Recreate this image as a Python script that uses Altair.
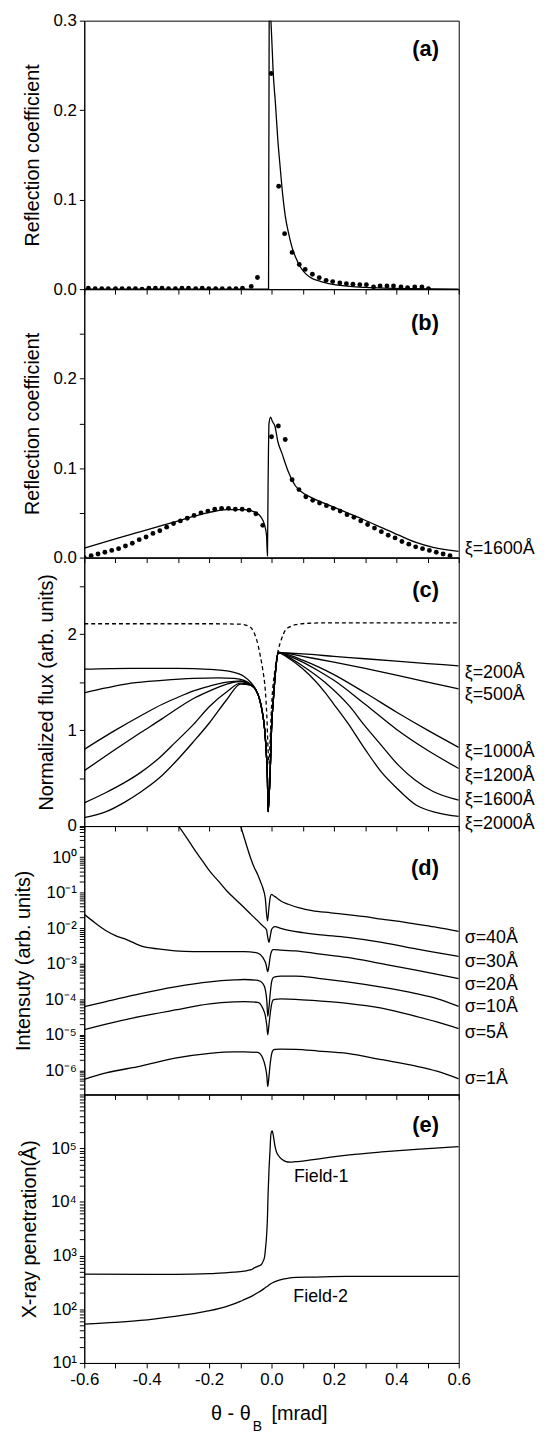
import altair as alt
import pandas as pd

# ---------------- data ----------------
# panel (a)
A_LINE_X = [-0.6, -0.2, -0.0095, -0.0075, -0.005, -0.002, 0.002, 0.005, 0.0127, 0.02, 0.0286, 0.036, 0.0444,
            0.055, 0.0656, 0.078, 0.092, 0.11, 0.13, 0.145, 0.18, 0.22, 0.251, 0.3, 0.36, 0.45, 0.6]
A_LINE_Y = [0.0, 0.0, 0.0, 0.30, 0.31, 0.30, 0.27, 0.245, 0.207, 0.168, 0.133, 0.105, 0.081,
            0.062, 0.047, 0.035, 0.025, 0.017, 0.012, 0.010, 0.0065, 0.0042, 0.003, 0.0019, 0.0011, 0.0005, 0.0]
A_DOT_X = [-0.587, -0.565, -0.544, -0.523, -0.500, -0.479, -0.457, -0.436, -0.415, -0.393, -0.372, -0.351, -0.330,
           -0.308, -0.287, -0.266, -0.243, -0.222, -0.201, -0.179, -0.158, -0.135, -0.114, -0.093, -0.065, -0.045,
           -0.001, 0.023, 0.042, 0.066, 0.089, 0.108, 0.131, 0.153, 0.175, 0.196, 0.219, 0.240, 0.261, 0.283,
           0.304, 0.327, 0.348, 0.370, 0.391, 0.415, 0.436, 0.459, 0.482, 0.503]
A_DOT_Y = [0.001, 0.0005, 0.0005, 0.0005, 0.0005, 0.0005, 0.0005, 0.0005, 0.0, 0.001, 0.001, 0.001, 0.0005,
           0.0005, 0.001, 0.001, 0.0005, 0.001, 0.0005, 0.0005, 0.0005, 0.0005, 0.0005, 0.001, 0.003, 0.013,
           0.241, 0.115, 0.062, 0.041, 0.0275, 0.022, 0.0166, 0.0128, 0.0098, 0.0084, 0.0069, 0.0061, 0.0054, 0.005,
           0.005, 0.0025, 0.0036, 0.0036, 0.0036, 0.0025, 0.0017, 0.0025, 0.0025, 0.0006]

# panel (b)
B_LINE_X = [-0.6, -0.53, -0.45, -0.419, -0.35, -0.309, -0.25, -0.198, -0.143, -0.088, -0.055, -0.033, -0.022,
            -0.016, -0.013, -0.011, -0.008, -0.003, 0.003, 0.011, 0.02, 0.033, 0.055, 0.077, 0.1, 0.132, 0.188,
            0.243, 0.298, 0.353, 0.408, 0.463, 0.518, 0.6]
B_LINE_Y = [0.0105, 0.0178, 0.026, 0.029, 0.036, 0.040, 0.046, 0.0506, 0.0535, 0.0535, 0.051, 0.045, 0.036,
            0.025, 0.002, 0.08, 0.15, 0.157, 0.152, 0.147, 0.13, 0.117, 0.095, 0.080, 0.0725, 0.0665, 0.058,
            0.050, 0.042, 0.0335, 0.025, 0.017, 0.0115, 0.007]
B_DOT_X = [-0.600, -0.578, -0.556, -0.534, -0.512, -0.490, -0.468, -0.446, -0.424, -0.402, -0.380, -0.358, -0.336,
           -0.314, -0.292, -0.270, -0.248, -0.226, -0.204, -0.182, -0.160, -0.138, -0.116, -0.094, -0.072, -0.050,
           -0.028, 0.000, 0.022, 0.044, 0.066, 0.088, 0.110, 0.132, 0.154, 0.176, 0.198, 0.220, 0.242, 0.264,
           0.286, 0.308, 0.330, 0.352, 0.374, 0.396, 0.418, 0.440, 0.462, 0.484, 0.506, 0.528, 0.550, 0.572]
B_DOT_Y = [0.000, 0.002, 0.004, 0.006, 0.008, 0.010, 0.013, 0.016, 0.020, 0.023, 0.027, 0.030, 0.034,
           0.038, 0.041, 0.044, 0.047, 0.050, 0.052, 0.054, 0.055, 0.055, 0.054, 0.054, 0.053, 0.049,
           0.036, 0.135, 0.147, 0.132, 0.087, 0.076, 0.068, 0.064, 0.061, 0.058, 0.055, 0.052, 0.048, 0.045,
           0.041, 0.037, 0.033, 0.029, 0.025, 0.022, 0.018, 0.015, 0.012, 0.010, 0.008, 0.006, 0.004, 0.002]

# panel (c): common dip segment of the solid curves
C_DIP_X = [-0.05, -0.038, -0.03, -0.022, -0.017, -0.013, -0.011, -0.008, -0.005, -0.002, 0.0, 0.006, 0.012, 0.017, 0.022]
C_DIP_Y = [1.42, 1.32, 1.20, 1.01, 0.78, 0.49, 0.15, 0.30, 0.49, 0.80, 1.01, 1.32, 1.58, 1.74, 1.81]
C_XI = ["200", "500", "1000", "1200", "1600", "2000"]
C_LEFT_X = {
    "200": [-0.6, -0.45, -0.3, -0.2, -0.13, -0.088, -0.067],
    "500": [-0.6, -0.53, -0.45, -0.35, -0.25, -0.17, -0.12, -0.088, -0.067],
    "1000": [-0.6, -0.5, -0.419, -0.35, -0.309, -0.25, -0.198, -0.143, -0.099, -0.067],
    "1200": [-0.6, -0.5, -0.419, -0.35, -0.309, -0.25, -0.198, -0.143, -0.099, -0.067],
    "1600": [-0.6, -0.53, -0.47, -0.419, -0.36, -0.309, -0.25, -0.198, -0.143, -0.099, -0.067],
    "2000": [-0.6, -0.53, -0.47, -0.419, -0.36, -0.309, -0.25, -0.198, -0.143, -0.099, -0.067],
}
C_LEFT_Y = {
    "200": [1.636, 1.645, 1.645, 1.635, 1.61, 1.56, 1.50],
    "500": [1.39, 1.44, 1.49, 1.52, 1.54, 1.545, 1.54, 1.52, 1.48],
    "1000": [0.80, 1.00, 1.15, 1.27, 1.33, 1.41, 1.46, 1.50, 1.51, 1.47],
    "1200": [0.578, 0.80, 0.975, 1.12, 1.21, 1.33, 1.41, 1.48, 1.51, 1.47],
    "1600": [0.242, 0.35, 0.455, 0.56, 0.71, 0.87, 1.06, 1.25, 1.40, 1.49, 1.47],
    "2000": [0.087, 0.15, 0.25, 0.355, 0.50, 0.665, 0.88, 1.08, 1.32, 1.48, 1.47],
}
C_RIGHT_X = {
    "200": [0.05, 0.1, 0.2, 0.3, 0.4, 0.5, 0.6],
    "500": [0.05, 0.1, 0.2, 0.3, 0.4, 0.5, 0.6],
    "1000": [0.05, 0.1, 0.15, 0.2, 0.3, 0.4, 0.5, 0.6],
    "1200": [0.05, 0.1, 0.15, 0.2, 0.3, 0.4, 0.5, 0.6],
    "1600": [0.05, 0.1, 0.171, 0.25, 0.298, 0.35, 0.408, 0.46, 0.518, 0.6],
    "2000": [0.05, 0.1, 0.138, 0.17, 0.2, 0.243, 0.3, 0.353, 0.4, 0.463, 0.53, 0.6],
}
C_RIGHT_Y = {
    "200": [1.805, 1.795, 1.77, 1.745, 1.72, 1.695, 1.67],
    "500": [1.80, 1.77, 1.71, 1.645, 1.575, 1.50, 1.43],
    "1000": [1.79, 1.73, 1.66, 1.58, 1.39, 1.19, 1.00, 0.82],
    "1200": [1.78, 1.71, 1.62, 1.52, 1.27, 1.01, 0.79, 0.60],
    "1600": [1.77, 1.67, 1.50, 1.25, 1.05, 0.85, 0.63, 0.48, 0.36, 0.27],
    "2000": [1.76, 1.64, 1.52, 1.40, 1.27, 1.08, 0.80, 0.56, 0.40, 0.22, 0.14, 0.10],
}
C_DASH_X = [-0.6, -0.2, -0.1, -0.07, -0.055, -0.044, -0.035, -0.028, -0.02, -0.015, -0.011, -0.008, -0.005,
            -0.002, 0.002, 0.006, 0.012, 0.017, 0.022, 0.032, 0.044, 0.06, 0.077, 0.12, 0.2, 0.6]
C_DASH_Y = [2.11, 2.11, 2.105, 2.08, 2.01, 1.90, 1.76, 1.63, 1.42, 1.15, 0.80, 0.65, 0.85,
            1.10, 1.35, 1.50, 1.65, 1.76, 1.84, 1.95, 2.04, 2.08, 2.10, 2.115, 2.12, 2.12]

# panel (d)
D_S40_X = [-0.099, -0.083, -0.067, -0.055, -0.044, -0.035, -0.028, -0.02, -0.013, -0.008, -0.004, 0.0, 0.008,
           0.016, 0.03, 0.054, 0.09, 0.13, 0.19, 0.243, 0.3, 0.353, 0.41, 0.463, 0.53, 0.6]
D_S40_Y = [7.5, 2.6, 0.94, 0.5, 0.32, 0.2, 0.137, 0.07, 0.016, 0.04, 0.075, 0.089, 0.08,
           0.072, 0.058, 0.047, 0.037, 0.031, 0.027, 0.024, 0.021, 0.018, 0.0155, 0.013, 0.0105, 0.0081]
D_S30_X = [-0.298, -0.27, -0.243, -0.22, -0.198, -0.17, -0.143, -0.115, -0.088, -0.065, -0.044, -0.03, -0.022,
           -0.016, -0.012, -0.008, -0.004, 0.0, 0.005, 0.011, 0.03, 0.06, 0.1, 0.15, 0.243, 0.353, 0.463, 0.6]
D_S30_Y = [7.5, 3.3, 1.44, 0.75, 0.40, 0.21, 0.111, 0.064, 0.038, 0.024, 0.016, 0.012, 0.0105,
           0.009, 0.0055, 0.004, 0.006, 0.009, 0.0105, 0.011, 0.0098, 0.0085, 0.0075, 0.0066, 0.0055, 0.004, 0.0026, 0.0016]
D_S20_X = [-0.6, -0.565, -0.53, -0.5, -0.47, -0.419, -0.364, -0.309, -0.25, -0.198, -0.14, -0.088, -0.044, -0.028,
           -0.018, -0.012, -0.008, -0.004, 0.0, 0.005, 0.011, 0.03, 0.077, 0.15, 0.243, 0.353, 0.463, 0.6]
D_S20_Y = [0.0245, 0.014, 0.0085, 0.0062, 0.005, 0.0032, 0.0026, 0.0023, 0.0022, 0.0022, 0.0022, 0.0022, 0.002, 0.0015,
           0.001, 0.0006, 0.0009, 0.0016, 0.0022, 0.0025, 0.0025, 0.0024, 0.0023, 0.0019, 0.0015, 0.001, 0.00066, 0.00038]
D_LOW_X = [-0.6, -0.53, -0.419, -0.309, -0.198, -0.12, -0.088, -0.044, -0.028, -0.02, -0.015, -0.012, -0.008,
           -0.004, 0.0, 0.005, 0.011, 0.03, 0.077, 0.15, 0.243, 0.353, 0.463, 0.53, 0.6]
D_S10_Y = [6.2e-5, 8.6e-5, 1.45e-4, 2.24e-4, 3.1e-4, 3.5e-4, 3.6e-4, 3.4e-4, 2.8e-4, 1.9e-4, 9e-5, 3.3e-5, 6e-5,
           1.5e-4, 3e-4, 4e-4, 4.3e-4, 4.5e-4, 4.5e-4, 3.9e-4, 3.1e-4, 2.2e-4, 1.45e-4, 1.05e-4, 6.3e-5]
D_S5_Y = [1.4e-5, 2e-5, 3.3e-5, 5e-5, 7.4e-5, 8.4e-5, 8.6e-5, 8.2e-5, 5.6e-5, 3.5e-5, 1.8e-5, 1e-5, 2e-5,
          4e-5, 7e-5, 9.5e-5, 1e-4, 1.02e-4, 1e-4, 9e-5, 7.7e-5, 5.6e-5, 3.3e-5, 2.3e-5, 1.5e-5]
D_S1_Y = [5.6e-7, 8.5e-7, 1.32e-6, 2.2e-6, 3.0e-6, 3.3e-6, 3.3e-6, 3.2e-6, 2.2e-6, 1.3e-6, 7e-7, 3.5e-7, 7e-7,
          1.6e-6, 2.8e-6, 3.7e-6, 3.9e-6, 3.95e-6, 3.9e-6, 3.5e-6, 3.0e-6, 2.0e-6, 1.32e-6, 9.5e-7, 5.8e-7]

# panel (e)
E_F1_X = [-0.6, -0.4, -0.309, -0.198, -0.12, -0.088, -0.065, -0.055, -0.044, -0.033, -0.027, -0.022, -0.019,
          -0.016, -0.013, -0.011, -0.008, -0.005, -0.002, 0.002, 0.006, 0.011, 0.016, 0.022, 0.033, 0.044, 0.06,
          0.077, 0.1, 0.14, 0.19, 0.25, 0.353, 0.463, 0.6]
E_F1_Y = [450, 445, 445, 460, 490, 515, 545, 590, 630, 675, 780, 960, 1400,
          2240, 5000, 13700, 40000, 85000, 180000, 210000, 170000, 110000, 85000, 73000, 62000, 57000, 55000,
          56000, 57500, 62000, 68000, 75000, 85000, 95000, 107000]
E_F2_X = [-0.6, -0.5, -0.42, -0.31, -0.25, -0.198, -0.143, -0.1, -0.088, -0.06, -0.043, -0.025, -0.011, 0.005,
          0.022, 0.04, 0.055, 0.08, 0.13, 0.24, 0.4, 0.6]
E_F2_Y = [53, 57, 62, 74, 83, 94, 113, 140, 151, 180, 205, 240, 275, 315,
          344, 368, 382, 392, 397, 408, 410, 410]

# ticks / labels
X_TICKS = [-0.6, -0.5, -0.4, -0.3, -0.2, -0.1, 0.0, 0.1, 0.2, 0.3, 0.4, 0.5, 0.6]
A_TICKS = [0.0, 0.1, 0.2, 0.3]
B_TICKS = [0.0, 0.05, 0.1, 0.15, 0.2, 0.25]
C_TICKS = [0.0, 0.5, 1.0, 1.5, 2.0, 2.5]
D_EXP = [-6, -5, -4, -3, -2, -1, 0]
E_EXP = [1, 2, 3, 4, 5]

C_LABELS = ["ξ=200Å", "ξ=500Å", "ξ=1000Å", "ξ=1200Å", "ξ=1600Å", "ξ=2000Å"]
C_LABEL_Y = [116.5, 138.5, 196.5, 220.5, 244.5, 268.5]
D_LABELS = ["σ=40Å", "σ=30Å", "σ=20Å", "σ=10Å", "σ=5Å", "σ=1Å"]
D_LABEL_Y = [113, 137.3, 160.6, 183, 209, 255.6]

FONT = "Liberation Sans"
W, H = 378, 271
LW = 1.3

SUP = str.maketrans("0123456789-", "⁰¹²³⁴⁵⁶⁷⁸⁹⁻")


def log_label_expr(exps):
    parts = [f"abs(log(datum.value)/LN10 - ({e})) < 0.001 ? '10{str(e).translate(SUP)}'" for e in exps]
    return " : ".join(parts) + " : ''"


def log_ticks(lo, hi, e0, e1):
    out = []
    for e in range(e0, e1 + 1):
        for k in range(1, 10):
            v = k * 10.0 ** e
            if lo <= v <= hi:
                out.append(v)
    return out


def xenc(show_labels):
    return alt.X("x:Q",
                 scale=alt.Scale(domain=[-0.6, 0.6], nice=False, zero=False),
                 axis=alt.Axis(values=X_TICKS, labels=show_labels, tickSize=5, grid=False,
                               labelFlush=False, labelOverlap=False,
                               labelExpr="abs(datum.value*5 - round(datum.value*5)) < 0.001 ? replace(format(datum.value, '.1f'), '\u2212', '-') : ''",
                               labelPadding=4),
                 title=None)


def yenc(domain, ticks, label_expr, title, log=False):
    sc = alt.Scale(type="log", domain=domain, nice=False) if log else alt.Scale(domain=domain, nice=False, zero=False)
    return alt.Y("y:Q", scale=sc,
                 axis=alt.Axis(values=ticks, labelExpr=label_expr, tickSize=5, grid=False,
                               labelFlush=False, labelOverlap=False,
                               labelPadding=3, titlePadding=11),
                 title=title)


def line_df(xs, ys, s):
    return pd.DataFrame({"x": xs, "y": ys, "s": s})


def lines(df, x, y, dash=None):
    kw = dict(interpolate="monotone", clip=True, color="black", strokeWidth=LW)
    if dash:
        kw["strokeDash"] = dash
    return alt.Chart(df).mark_line(**kw).encode(x=x, y=y, detail="s:N", order="x:Q")


def dots(df, x, y):
    return alt.Chart(df).mark_circle(size=24, color="black", opacity=1, clip=True).encode(x=x, y=y)


def label(text, px, py, size=18, bold=False, align="left"):
    return alt.Chart(pd.DataFrame({"t": [text]})).mark_text(
        align=align, baseline="middle", fontSize=size, font=FONT,
        fontWeight="bold" if bold else "normal", color="black"
    ).encode(x=alt.value(px), y=alt.value(py), text="t:N")


PANEL_RIGHT = 358

# ---- panel (a)
xa = xenc(False)
ya = yenc([0, 0.3], A_TICKS, "format(datum.value, '.1f')", "Reflection coefficient")
pa = alt.layer(
    lines(line_df(A_LINE_X, A_LINE_Y, "a"), xa, ya),
    dots(pd.DataFrame({"x": A_DOT_X, "y": A_DOT_Y}), xa, ya),
    label("(a)", PANEL_RIGHT, 29, size=22, bold=True, align="right"),
).properties(width=W, height=H)

# ---- panel (b)
yb = yenc([0, 0.3], B_TICKS,
          "abs(datum.value*10 - round(datum.value*10)) < 0.001 ? format(datum.value, '.1f') : ''",
          "Reflection coefficient")
pb = alt.layer(
    lines(line_df(B_LINE_X, B_LINE_Y, "b"), xa, yb),
    dots(pd.DataFrame({"x": B_DOT_X, "y": B_DOT_Y}), xa, yb),
    label("(b)", PANEL_RIGHT, 34.5, size=22, bold=True, align="right"),
    label("ξ=1600Å", 384, 262.5),
).properties(width=W, height=H)

# ---- panel (c)
yc = yenc([0, 2.8], C_TICKS, "datum.value % 1 == 0 ? format(datum.value, 'd') : ''",
          "Normalized flux (arb. units)")
c_frames = []
for xi in C_XI:
    c_frames.append(line_df(C_LEFT_X[xi] + C_DIP_X + C_RIGHT_X[xi],
                            C_LEFT_Y[xi] + C_DIP_Y + C_RIGHT_Y[xi], xi))
c_layers = [
    lines(line_df(C_DASH_X, C_DASH_Y, "dash"), xa, yc, dash=[4, 3]),
    lines(pd.concat(c_frames, ignore_index=True), xa, yc),
    label("(c)", PANEL_RIGHT, 32.5, size=22, bold=True, align="right"),
]
for t, py in zip(C_LABELS, C_LABEL_Y):
    c_layers.append(label(t, 384, py))
pc = alt.layer(*c_layers).properties(width=W, height=H)

# ---- panel (d)
D_DOM = [2.1e-7, 7.45]
yd = yenc(D_DOM, log_ticks(D_DOM[0], D_DOM[1], -7, 0), log_label_expr(D_EXP),
          "Intensuty  (arb. units)", log=True)
d_df = pd.concat([
    line_df(D_S40_X, D_S40_Y, "40"),
    line_df(D_S30_X, D_S30_Y, "30"),
    line_df(D_S20_X, D_S20_Y, "20"),
    line_df(D_LOW_X, D_S10_Y, "10"),
    line_df(D_LOW_X, D_S5_Y, "5"),
    line_df(D_LOW_X, D_S1_Y, "1"),
], ignore_index=True)
d_layers = [lines(d_df, xa, yd), label("(d)", PANEL_RIGHT, 42, size=22, bold=True, align="right")]
for t, py in zip(D_LABELS, D_LABEL_Y):
    d_layers.append(label(t, 384, py))
pd_ = alt.layer(*d_layers).properties(width=W, height=H)

# ---- panel (e)
E_DOM = [10, 1e6]
xe = xenc(True)
ye = yenc(E_DOM, log_ticks(E_DOM[0], E_DOM[1], 1, 6), log_label_expr(E_EXP),
          "X-ray penetration(Å)", log=True)
e_df = pd.concat([line_df(E_F1_X, E_F1_Y, "f1"), line_df(E_F2_X, E_F2_Y, "f2")], ignore_index=True)
pe = alt.layer(
    lines(e_df, xe, ye),
    label("(e)", PANEL_RIGHT, 31, size=22, bold=True, align="right"),
    label("Field-1", 211.6, 83, size=18),
    label("Field-2", 211, 204, size=18),
    label("θ - θ", 168, H + 52, size=20, align="right"),
    label("B", 170, H + 65, size=14),
    label("[mrad]", 189, H + 52, size=20),
).properties(width=W, height=H)

chart = alt.vconcat(pa, pb, pc, pd_, pe, spacing=0, bounds="flush").properties(
    padding={"left": 5, "top": -4, "right": 0, "bottom": 0}
).configure(font=FONT).configure_view(
    stroke="black", strokeWidth=1
).configure_axis(
    domainColor="black", tickColor="black", labelColor="black", titleColor="black",
    labelFont=FONT, titleFont=FONT, labelFontSize=17, titleFontSize=20, titleFontWeight="normal",
    domainWidth=1, tickWidth=1
)

chart.save("out.html", embed_options={"renderer": "svg", "actions": False})
